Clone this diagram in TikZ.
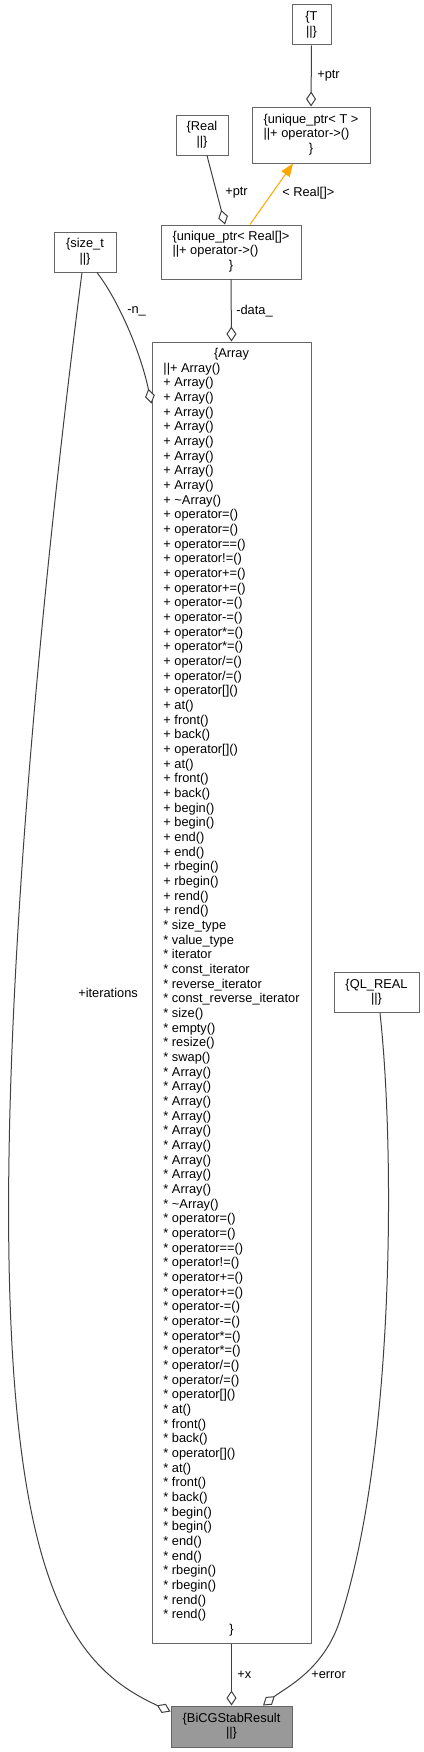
\documentclass[tikz,border=0pt]{standalone}
\usepackage{fontspec}
\setmainfont{Liberation Sans}
\usetikzlibrary{arrows.meta,calc}
\definecolor{boxc}{HTML}{666666}
\definecolor{edgec}{HTML}{404040}
\definecolor{bifill}{HTML}{999999}
\definecolor{tmplc}{HTML}{FFA500}
\newcommand{\ctr}[1]{\multicolumn{1}{@{}c@{}}{#1}}
\begin{document}
\begin{tikzpicture}[x=0.75pt,y=-0.75pt,
  txt/.style={font=\fontsize{9.62pt}{11pt}\selectfont},
  box/.style={txt,draw=boxc,line width=0.75pt,fill=white,inner sep=0pt,align=center},
  sz/.style 2 args={minimum width=#1*0.75pt,minimum height=#2*0.75pt},
  agg/.style={draw=edgec,line width=0.75pt,-{Diamond[fill=white,length=11.25pt,width=7.5pt,line width=0.75pt]}},
  tmpl/.style={draw=tmplc,line width=0.75pt,-{Triangle[length=9.75pt,width=7.5pt]},tmplc},
  lbl/.style={txt,anchor=west,inner sep=0pt,text=black}]
\useasboundingbox (0,0) rectangle (424,1752);

\node[box,sz={39}{40}] (T) at (311.5,25) {\begin{tabular}{@{}c@{}}\{T\\||\}\end{tabular}};
\node[box,sz={118}{56}] (uT) at (311,135) {\begin{tabular}{@{}l@{}}\ctr{\{unique\_ptr< T >}\\||+ operator->()\\\ctr{\}}\end{tabular}};
\node[box,sz={52}{40}] (Real) at (202,135) {\begin{tabular}{@{}c@{}}\{Real\\||\}\end{tabular}};
\node[box,sz={140}{54}] (uR) at (231,252) {\begin{tabular}{@{}l@{}}\ctr{\{unique\_ptr< Real[]>}\\||+ operator->()\\\ctr{\}}\end{tabular}};
\node[box,sz={62}{40}] (sizet) at (85,252) {\begin{tabular}{@{}c@{}}\{size\_t\\||\}\end{tabular}};
\node[box,sz={85}{40}] (QL) at (376.5,992.5) {\begin{tabular}{@{}c@{}}\{QL\_REAL\\||\}\end{tabular}};
\node[box,sz={121}{41},fill=bifill] (Bi) at (231.5,1726.5) {\begin{tabular}{@{}c@{}}\{BiCGStabResult\\||\}\end{tabular}};
\node[box,sz={159}{1301}] (Array) at (231.5,992.5) {\begin{tabular}{@{}l@{}}
\ctr{\{Array}\\
||+ Array()\\
+ Array()\\
+ Array()\\
+ Array()\\
+ Array()\\
+ Array()\\
+ Array()\\
+ Array()\\
+ Array()\\
+ \textasciitilde Array()\\
+ operator=()\\
+ operator=()\\
+ operator==()\\
+ operator!=()\\
+ operator+=()\\
+ operator+=()\\
+ operator-=()\\
+ operator-=()\\
+ operator*=()\\
+ operator*=()\\
+ operator/=()\\
+ operator/=()\\
+ operator[]()\\
+ at()\\
+ front()\\
+ back()\\
+ operator[]()\\
+ at()\\
+ front()\\
+ back()\\
+ begin()\\
+ begin()\\
+ end()\\
+ end()\\
+ rbegin()\\
+ rbegin()\\
+ rend()\\
+ rend()\\
{*} size\_type\\
{*} value\_type\\
{*} iterator\\
{*} const\_iterator\\
{*} reverse\_iterator\\
{*} const\_reverse\_iterator\\
{*} size()\\
{*} empty()\\
{*} resize()\\
{*} swap()\\
{*} Array()\\
{*} Array()\\
{*} Array()\\
{*} Array()\\
{*} Array()\\
{*} Array()\\
{*} Array()\\
{*} Array()\\
{*} Array()\\
{*} \textasciitilde Array()\\
{*} operator=()\\
{*} operator=()\\
{*} operator==()\\
{*} operator!=()\\
{*} operator+=()\\
{*} operator+=()\\
{*} operator-=()\\
{*} operator-=()\\
{*} operator*=()\\
{*} operator*=()\\
{*} operator/=()\\
{*} operator/=()\\
{*} operator[]()\\
{*} at()\\
{*} front()\\
{*} back()\\
{*} operator[]()\\
{*} at()\\
{*} front()\\
{*} back()\\
{*} begin()\\
{*} begin()\\
{*} end()\\
{*} end()\\
{*} rbegin()\\
{*} rbegin()\\
{*} rend()\\
{*} rend()\\
\ctr{\}}
\end{tabular}};

% connectors
\draw[agg] (T.south) -- (uT.north);
\draw[agg] ($(Real.south)+(5,0)$) -- ($(uR.north)+(-6,0)$);
\draw[tmpl] ($(uR.north)+(19,0)$) -- ($(uT.south)+(-18,0)$);
\draw[agg] (uR.south) -- (Array.north);
\draw[agg] ($(sizet.south)+(12,0)$) .. controls (118,300) and (140,350) .. ($(Array.north west)+(0,62)$);
\draw[agg] ($(sizet.south)+(-3,0)$) .. controls (45,560) and (0,1000) .. (10,1300) .. controls (20,1600) and (80,1670) .. ($(Bi.west)+(0,-15)$);
\draw[agg] ($(QL.south)+(3.5,0)$) .. controls (395,1150) and (395,1450) .. (340,1620) .. controls (324,1670) and (285,1688) .. ($(Bi.north)+(31.5,0)$);
\draw[agg] (Array.south) -- (Bi.north);

% labels
\node[lbl] (l1) at (317,76) {+ptr};
\node[lbl] (l2) at (225,193) {+ptr};
\node[lbl] (l3) at (282,193) {< Real[]>};
\node[lbl] (l4) at (236,311) {-data\_};
\node[lbl] (l5) at (127,311) {-n\_};
\node[lbl] (l6) at (78,993) {+iterations};
\node[lbl] (l7) at (237,1675) {+x};
\node[lbl] (l8) at (311,1675) {+error};
\end{tikzpicture}
\end{document}
